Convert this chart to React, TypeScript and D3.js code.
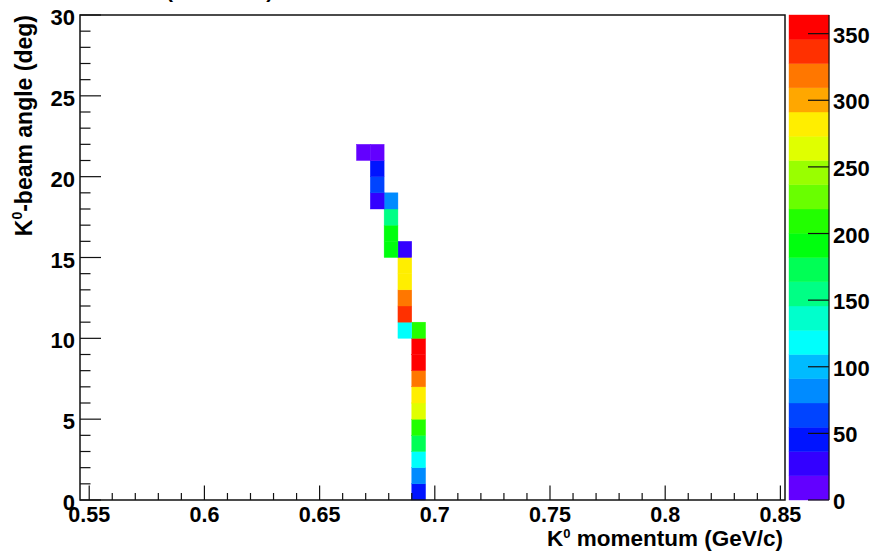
import React from "react";
import * as d3 from "d3";

// ---- data ----
const xDomain = [0.546, 0.852];
const yDomain = [0, 30];
const zMax = 364;
const binWidthX = 0.006;
const binWidthY = 1;
const nContours = 20;

// lower edges of filled bins (momentum GeV/c, angle deg) and counts
const cellMomentum = [
  0.69, 0.69, 0.69, 0.69, 0.69, 0.69, 0.69, 0.69, 0.69, 0.69, 0.69,
  0.684, 0.684, 0.684, 0.684, 0.684, 0.684,
  0.678, 0.678, 0.678, 0.678,
  0.672, 0.672, 0.672, 0.672,
  0.666,
];
const cellAngle = [
  0, 1, 2, 3, 4, 5, 6, 7, 8, 9, 10,
  10, 11, 12, 13, 14, 15,
  15, 16, 17, 18,
  18, 19, 20, 21,
  21,
];
const cellCount = [
  45, 82, 118, 173, 209, 264, 282, 318, 355, 364, 209,
  118, 337, 318, 282, 282, 27,
  191, 191, 155, 82,
  27, 64, 45, 10,
  10,
];

const xTicks = [0.55, 0.6, 0.65, 0.7, 0.75, 0.8, 0.85];
const xTickLabels = ["0.55", "0.6", "0.65", "0.7", "0.75", "0.8", "0.85"];
const yTicks = [0, 5, 10, 15, 20, 25, 30];
const zTicks = [0, 50, 100, 150, 200, 250, 300, 350];
const titleFragment = "(lab frame)";

// ---- layout ----
const W = 875;
const H = 551;
const L = 80, R = 785, T = 15, B = 500;
const cbL = 789, cbR = 829;

// ROOT "pretty palette" (HLS violet -> red, 50 colours)
function paletteColor(k: number) {
  const hue = k >= 49 ? 0 : 280 - (k + 1) * 5.6;
  return d3.hsl(hue, 1, 0.5).formatHex();
}
function bandColor(band: number) {
  const k = Math.floor((band + 0.99) * 50 / nContours);
  return paletteColor(Math.min(49, k));
}
function valueColor(v: number) {
  const band = Math.min(nContours - 1, Math.floor((v / zMax) * nContours));
  return bandColor(band);
}

export default function App() {
  const x = d3.scaleLinear().domain(xDomain).range([L, R]);
  const y = d3.scaleLinear().domain(yDomain).range([B, T]);
  const z = d3.scaleLinear().domain([0, zMax]).range([B, T]);

  const xMinor = d3.range(55, 86).map((v) => v / 100).filter((v) => Math.round(v * 100) % 5 !== 0);
  const yMinor = d3.range(0, 31).filter((v) => v % 5 !== 0);

  const font = "'Liberation Sans', Arial, Helvetica, sans-serif";
  const axisStroke = "#111";

  return (
    <svg
      width={W}
      height={H}
      style={{ position: "absolute", left: 0, top: 0, background: "#fff" }}
      fontFamily={font}
      fontWeight="bold"
    >
      <rect x={0} y={0} width={W} height={H} fill="#fff" />

      {/* title fragment (cut off at the top) */}
      <text x={166} y={-2} fontSize={21} fill="#000">{titleFragment}</text>

      {/* cells */}
      {cellCount.map((v, i) => (
        <rect
          key={i}
          x={x(cellMomentum[i])}
          y={y(cellAngle[i] + binWidthY)}
          width={x(cellMomentum[i] + binWidthX) - x(cellMomentum[i])}
          height={y(cellAngle[i]) - y(cellAngle[i] + binWidthY)}
          fill={valueColor(v)}
          stroke={valueColor(v)}
          strokeWidth={0.4}
        />
      ))}

      {/* frame */}
      <rect x={L} y={T} width={R - L} height={B - T} fill="none" stroke={axisStroke} strokeWidth={1.5} />

      {/* x ticks */}
      {xTicks.map((t) => (
        <line key={"xm" + t} x1={x(t)} x2={x(t)} y1={B} y2={B - 14.5} stroke={axisStroke} strokeWidth={1.2} />
      ))}
      {xMinor.map((t) => (
        <line key={"xn" + t} x1={x(t)} x2={x(t)} y1={B} y2={B - 7} stroke={axisStroke} strokeWidth={1.2} />
      ))}
      {xTicks.map((t, i) => (
        <text key={"xl" + t} x={x(t)} y={521.5} fontSize={21.5} textAnchor="middle" fill="#000">
          {xTickLabels[i]}
        </text>
      ))}

      {/* y ticks */}
      {yTicks.map((t) => (
        <line key={"ym" + t} x1={L} x2={L + 21} y1={y(t)} y2={y(t)} stroke={axisStroke} strokeWidth={1.2} />
      ))}
      {yMinor.map((t) => (
        <line key={"yn" + t} x1={L} x2={L + 10.5} y1={y(t)} y2={y(t)} stroke={axisStroke} strokeWidth={1.2} />
      ))}
      {yTicks.map((t) => (
        <text key={"yl" + t} x={75} y={y(t) + 10} fontSize={22} textAnchor="end" fill="#000">
          {t}
        </text>
      ))}

      {/* axis titles */}
      <text x={783} y={546} fontSize={22.5} textAnchor="end" fill="#000">
        K<tspan dy={-8.5} fontSize={13}>0</tspan>
        <tspan dy={8.5}> momentum (GeV/c)</tspan>
      </text>
      <text transform={`translate(32,15) rotate(-90)`} fontSize={23} textAnchor="end" fill="#000">
        K<tspan dy={-10} fontSize={14}>0</tspan>
        <tspan dy={10}>-beam angle (deg)</tspan>
      </text>

      {/* colour bar */}
      {d3.range(nContours).map((b) => (
        <rect
          key={"cb" + b}
          x={cbL}
          y={z(((b + 1) * zMax) / nContours)}
          width={cbR - cbL}
          height={z((b * zMax) / nContours) - z(((b + 1) * zMax) / nContours)}
          fill={bandColor(b)}
          stroke={bandColor(b)}
          strokeWidth={0.4}
        />
      ))}
      <line x1={cbR} x2={cbR} y1={T} y2={B} stroke={axisStroke} strokeWidth={1.2} />
      {zTicks.map((t) => (
        <line key={"zt" + t} x1={cbR - 21} x2={cbR} y1={z(t)} y2={z(t)} stroke={axisStroke} strokeWidth={1.2} />
      ))}
      {zTicks.map((t) => (
        <text key={"zl" + t} x={833} y={z(t) + 9} fontSize={22} textAnchor="start" fill="#000">
          {t}
        </text>
      ))}
    </svg>
  );
}
